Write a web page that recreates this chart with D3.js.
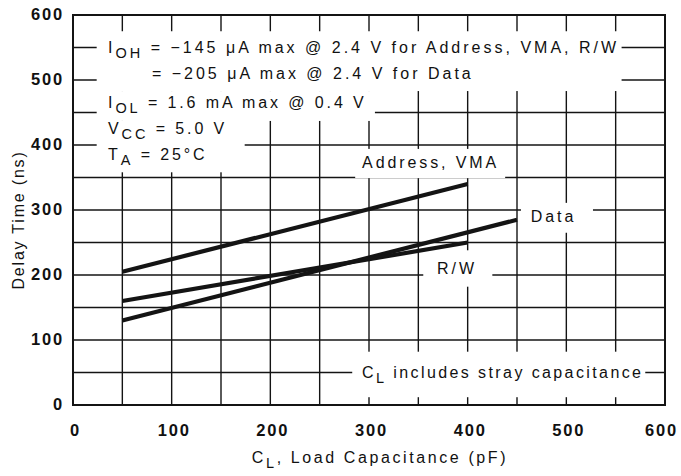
<!DOCTYPE html>
<html>
<head>
<meta charset="utf-8">
<script src="https://cdn.jsdelivr.net/npm/d3@7"></script>
<style>
  body { margin: 0; background: #fff; }
  svg text { font-family: "Liberation Sans", Arial, sans-serif; fill: #111; }
</style>
</head>
<body>
<svg id="chart" width="681" height="476"></svg>
<script>

// data (x in pF, y in ns)
var xTicks = [0, 100, 200, 300, 400, 500, 600];
var yTicks = [0, 100, 200, 300, 400, 500, 600];

var addressX = [50, 400];
var addressY = [205, 340];

var dataBusX = [50, 450];
var dataBusY = [130, 285];

var rwX = [50, 400];
var rwY = [160, 250];

var seriesNames = ["Address, VMA", "Data", "R/W"];

// chart setup
var svg = d3.select("#chart");

var x = d3.scaleLinear().domain([0, 600]).range([73, 665]);
var y = d3.scaleLinear().domain([0, 600]).range([405, 15]);

var ink = "#141414";

// grid every 50
var grid = svg.append("g");
d3.range(0, 601, 50).forEach(function (v) {
  grid.append("line")
    .attr("x1", x(v)).attr("x2", x(v))
    .attr("y1", y(0)).attr("y2", y(600))
    .attr("stroke", ink).attr("stroke-width", 1.4);
  grid.append("line")
    .attr("x1", x(0)).attr("x2", x(600))
    .attr("y1", y(v)).attr("y2", y(v))
    .attr("stroke", ink).attr("stroke-width", 1.4);
});

// white boxes that break the grid behind the notes (data units)
var masks = [
  [24, 556, 483, 575],
  [24, 306, 437, 483],
  [24, 174, 358, 437],
  [286, 438, 349, 394],
  [454, 527, 265, 311],
  [355, 425, 182, 238],
  [283, 580, 12, 82]
];
masks.forEach(function (m) {
  svg.append("rect")
    .attr("x", x(m[0])).attr("width", x(m[1]) - x(m[0]))
    .attr("y", y(m[3])).attr("height", y(m[2]) - y(m[3]))
    .attr("fill", "#fff");
});

// frame
svg.append("rect")
  .attr("x", x(0)).attr("y", y(600))
  .attr("width", x(600) - x(0)).attr("height", y(0) - y(600))
  .attr("fill", "none").attr("stroke", ink).attr("stroke-width", 2);

// curves
var line = d3.line().x(function (d) { return x(d[0]); }).y(function (d) { return y(d[1]); });
var curves = [d3.zip(addressX, addressY), d3.zip(dataBusX, dataBusY), d3.zip(rwX, rwY)];
curves.forEach(function (pts) {
  svg.append("path")
    .attr("d", line(pts))
    .attr("fill", "none")
    .attr("stroke", ink)
    .attr("stroke-width", 4.2);
});

// axes labels
var xAxis = svg.append("g")
  .attr("transform", "translate(0," + (y(0) + 16) + ")")
  .call(d3.axisBottom(x).tickValues(xTicks).tickSize(0));
xAxis.select(".domain").remove();
xAxis.selectAll("text")
  .attr("dx", function (d) { return d === 600 ? -4 : 2; })
  .style("font-size", "16.5px").style("font-weight", "bold").style("letter-spacing", "1.8px")
  .attr("fill", ink);

var yAxis = svg.append("g")
  .attr("transform", "translate(" + (x(0) - 6) + ",0)")
  .call(d3.axisLeft(y).tickValues(yTicks).tickSize(0));
yAxis.select(".domain").remove();
yAxis.selectAll("text")
  .attr("dy", "0.3em")
  .style("font-size", "16.5px").style("font-weight", "bold").style("letter-spacing", "1.8px")
  .attr("fill", ink);

// axis titles
var yTitle = svg.append("text")
  .attr("transform", "translate(24,220) rotate(-90)")
  .attr("text-anchor", "middle")
  .style("font-size", "16px").style("letter-spacing", "1.8px")
  .text("Delay Time (ns)");

var xTitle = svg.append("text")
  .attr("x", 380).attr("y", 463)
  .attr("text-anchor", "middle")
  .style("font-size", "16px").style("letter-spacing", "2.6px");
xTitle.append("tspan").text("C");
xTitle.append("tspan").attr("dy", 5).style("font-size", "14.5px").text("L");
xTitle.append("tspan").attr("dy", -5).text(", Load Capacitance (pF)");

// notes: [x, y, main, sub, rest, spacing]
var notes = [
  [35.5, 542, "I", "OH", " = \u2212145 \u03bcA max @ 2.4 V for Address, VMA, R/W", 3],
  [80, 501.5, "", "", "= \u2212205 \u03bcA max @ 2.4 V for Data", 3],
  [35.5, 457, "I", "OL", " = 1.6 mA max @ 0.4 V", 2.9],
  [35.5, 417, "V", "CC", " = 5.0 V", 2.9],
  [35.5, 377, "T", "A", " = 25\u00b0C", 2.9],
  [293, 365, seriesNames[0], "", "", 2.9],
  [464, 281.5, seriesNames[1], "", "", 2.9],
  [369, 201.5, seriesNames[2], "", "", 2.9],
  [293, 41.5, "C", "L", " includes stray capacitance", 2.4]
];
notes.forEach(function (n) {
  var t = svg.append("text")
    .attr("x", x(n[0])).attr("y", y(n[1]))
    .style("font-size", "16px").style("letter-spacing", n[5] + "px");
  if (n[2]) t.append("tspan").text(n[2]);
  if (n[3]) {
    t.append("tspan").attr("dy", 5).style("font-size", "14.5px").text(n[3]);
    t.append("tspan").attr("dy", -5).text(n[4]);
  } else if (n[4]) {
    t.append("tspan").text(n[4]);
  }
});

</script>
</body>
</html>
